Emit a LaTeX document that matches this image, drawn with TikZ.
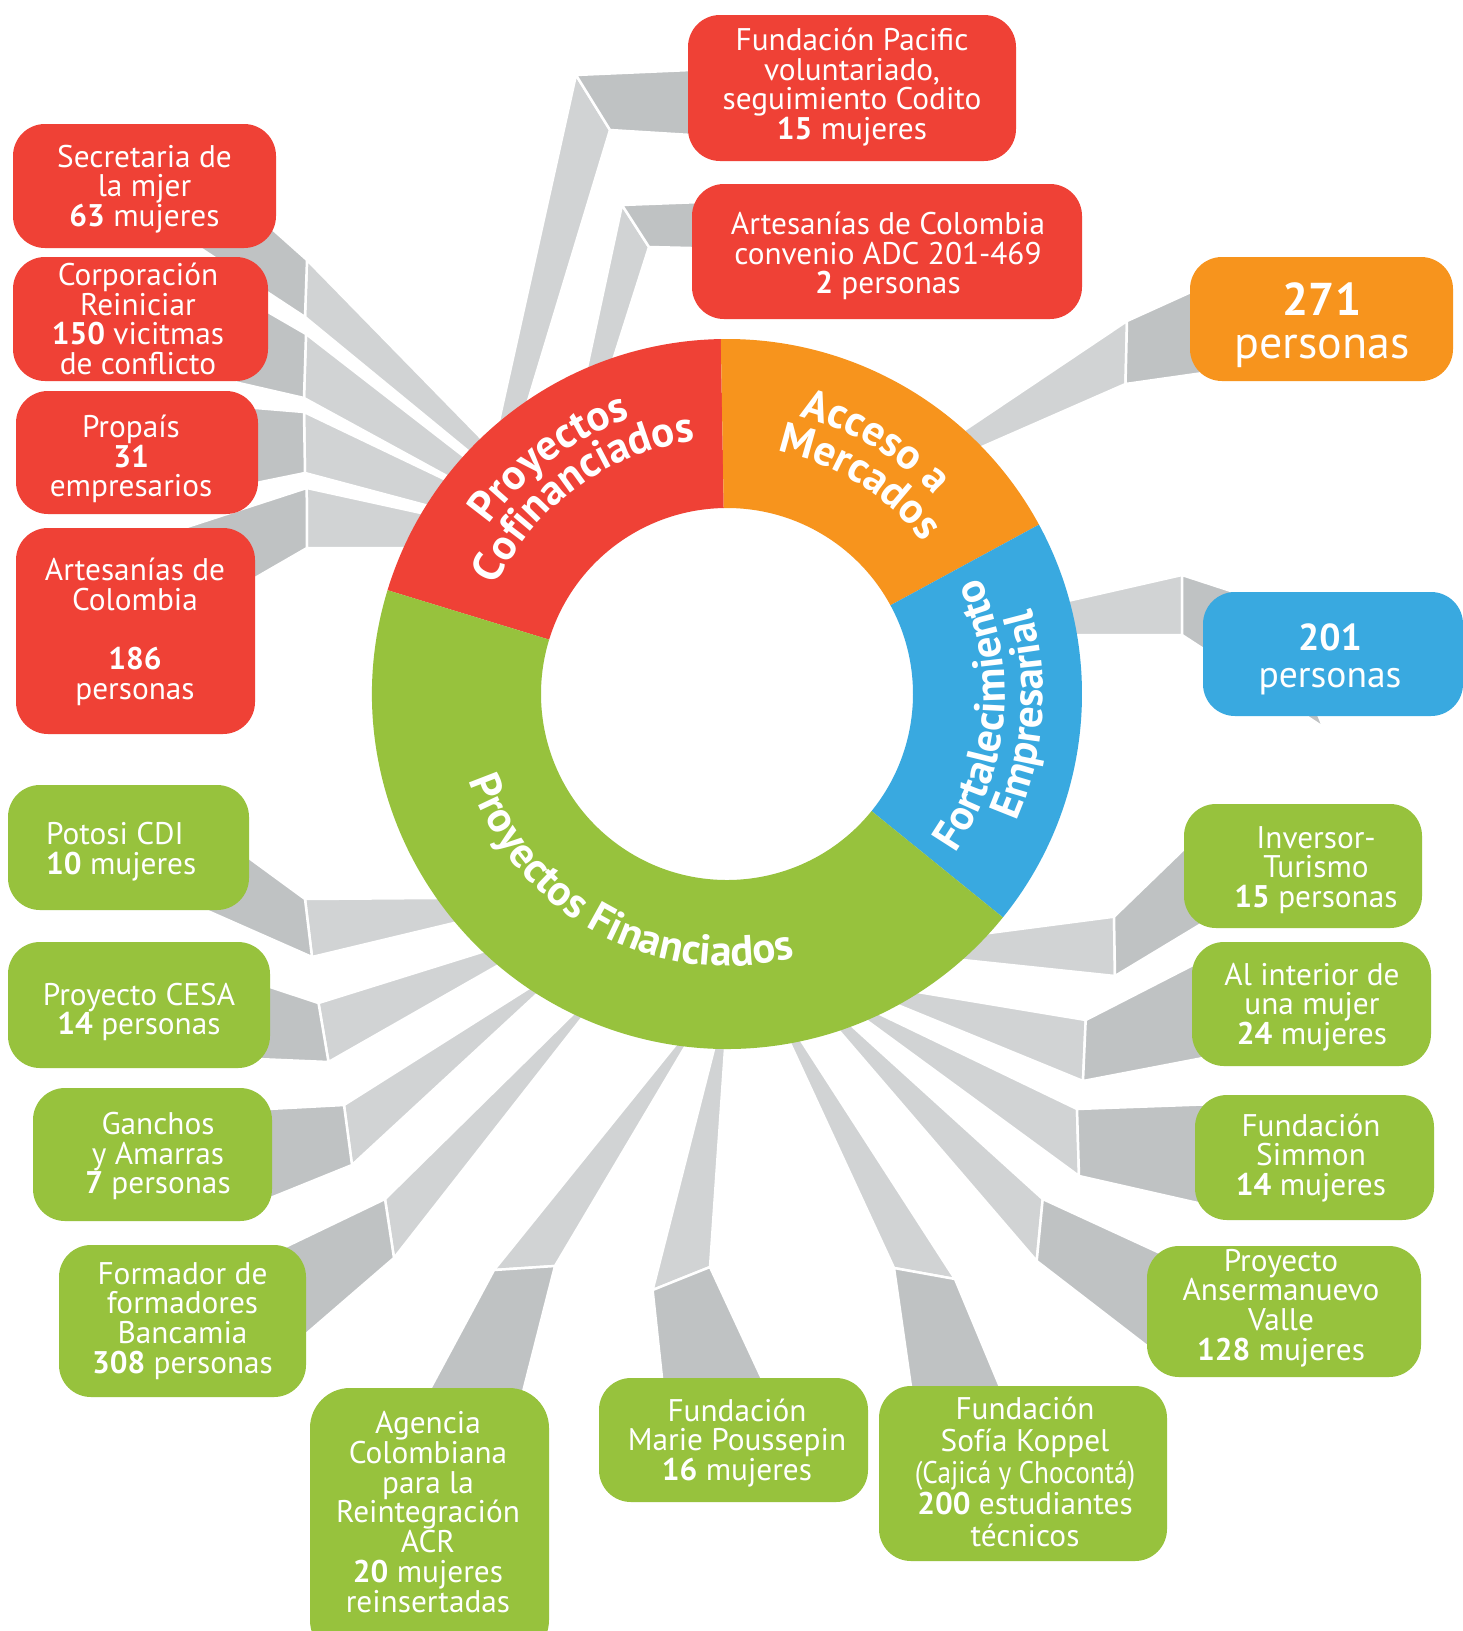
\documentclass[tikz,border=0pt]{standalone}
\usepackage{fontspec}
\setmainfont{PT Sans}
\usetikzlibrary{calc,decorations.text}
\definecolor{cred}{HTML}{EF4136}
\definecolor{corange}{HTML}{F7941D}
\definecolor{cblue}{HTML}{39A9E0}
\definecolor{cgreen}{HTML}{97C23D}
\definecolor{glight}{HTML}{D1D3D4}
\definecolor{gdark}{HTML}{BFC2C3}
\newcommand\dfont{\fontsize{43}{43}\selectfont\bfseries}
\tikzset{
  box/.style={rounded corners=32pt, inner sep=0pt, outer sep=0pt},
  txt/.style={text=white, align=center, font=\fontsize{31.3}{29.7}\selectfont, inner sep=0pt},
  rlight/.style={fill=glight, draw=white, line width=2.5pt, line join=round},
  rdark/.style={fill=gdark, draw=white, line width=2.5pt, line join=round},
  dtext/.style={decorate, decoration={text along path, text align=center, text color=white, text={|\dfont|#1}}}
}
% #1 name, #2 donut end of edge 1, #3 donut end of edge 2, #4 crease 1, #5 crease 2, #6 box end of edge 1, #7 box end of edge 2
\newcommand\rib[7]{%
  \coordinate (#1k1) at (#4);
  \coordinate (#1k2) at (#5);
  \coordinate (#1d1) at ($(#2)!-50pt!(#1k1)$);
  \coordinate (#1d2) at ($(#3)!-50pt!(#1k2)$);
  \coordinate (#1b1) at ($(#6)!-40pt!(#1k1)$);
  \coordinate (#1b2) at ($(#7)!-40pt!(#1k2)$);
  \path[rlight] (#1d1) -- (#1k1) -- (#1k2) -- (#1d2) -- cycle;
  \path[rdark] (#1k1) -- (#1b1) -- (#1b2) -- (#1k2) -- cycle;
}
\begin{document}
\begin{tikzpicture}[x=1pt,y=-1pt]
\fill[white] (0,0) rectangle (1463,1631);
\useasboundingbox (0,0) rectangle (1463,1631);

% ---------- ribbons ----------
\rib{r1}{480,437}{467,450}{307,260}{305,317}{270,227}{200,248}
\rib{r2}{462,455}{445,475}{306,334}{304,398}{268,312}{230,381}
\rib{r3}{442,478}{425,505}{304,412}{305,473}{256,408}{256,483}
\rib{r4}{421,513}{398,548}{306.7,488}{307,548}{193,525}{255,578}
\rib{r5}{497,430}{521,424}{576,75}{610,130}{691,70}{691,135}
\rib{r6}{588,363}{614,357}{622,205}{649,247}{702,202}{691,248}
\rib{r7}{964.6,430}{984,446}{1127,321}{1125.5,384}{1191,292}{1203,373}
\rib{r8}{1072,600}{1079.5,635}{1182,575}{1182,635}{1234,592}{1290,705.5}
\rib{r9}{435,898}{454,923}{305,899}{312,957}{249,858}{210,912}
\rib{r10}{482,952}{497,966}{318.5,1003}{328.5,1062}{270,987}{258,1059}
\rib{r11}{526,990}{536,995}{344,1105}{352,1165}{268,1109}{268,1199}
\rib{r12}{572,1015}{582,1018}{385,1199}{394,1258}{283,1248}{306,1334}
\rib{r13}{675.5,1045}{685,1047}{494,1270}{555,1266}{430.6,1388}{524,1388}
\rib{r14}{714,1049}{725,1049}{652.6,1290}{710,1267}{662,1378}{761.6,1378}
\rib{r15}{790,1043}{802,1042}{894,1268}{955,1279}{911,1387}{1000,1387}
\rib{r16}{852,1026}{840,1032}{1042.7,1199}{1036.7,1261}{1160,1253}{1147,1346}
\rib{r17}{881.7,1015}{870,1023}{1077,1109}{1079,1176}{1216.7,1104}{1206.7,1205}
\rib{r18}{921.7,992.7}{900,1006}{1085.7,1020}{1083,1081}{1193,965}{1203,1058}
\rib{r19}{991.7,932.7}{963,960}{1114,916.7}{1115,976}{1184,849}{1202,923.5}

% ---------- boxes ----------
\node[box, fill=cred, minimum width=263pt, minimum height=124pt] (s1) at (144.5,186) {};
\node[box, fill=cred, minimum width=255pt, minimum height=124pt] (s2) at (140.5,319) {};
\node[box, fill=cred, minimum width=242pt, minimum height=123pt] (s3) at (137,452.5) {};
\node[box, fill=cred, minimum width=239pt, minimum height=206pt] (s4) at (135.5,631) {};
\node[box, fill=cred, minimum width=328pt, minimum height=146pt] (s5) at (852,88) {};
\node[box, fill=cred, minimum width=390pt, minimum height=135pt] (s6) at (887,251.5) {};
\node[box, fill=corange, minimum width=263pt, minimum height=124pt] (o1) at (1321.5,319) {};
\node[box, fill=cblue, minimum width=260pt, minimum height=124pt] (b1) at (1333,654) {};
\node[box, fill=cgreen, minimum width=241pt, minimum height=125pt] (g1) at (128.5,847.5) {};
\node[box, fill=cgreen, minimum width=262pt, minimum height=126pt] (g2) at (139,1005) {};
\node[box, fill=cgreen, minimum width=239pt, minimum height=133pt] (g3) at (152.5,1154.5) {};
\node[box, fill=cgreen, minimum width=247pt, minimum height=152pt] (g4) at (182.5,1321) {};
\node[box, fill=cgreen, minimum width=239pt, minimum height=272pt, rounded corners=40pt] (g5) at (429.5,1524) {};
\node[box, fill=cgreen, minimum width=269pt, minimum height=124pt] (g6) at (733.5,1440) {};
\node[box, fill=cgreen, minimum width=288pt, minimum height=175pt] (g7) at (1023,1473.5) {};
\node[box, fill=cgreen, minimum width=274pt, minimum height=131pt] (g8) at (1284,1311.5) {};
\node[box, fill=cgreen, minimum width=239pt, minimum height=125pt] (g9) at (1314.5,1157.5) {};
\node[box, fill=cgreen, minimum width=239pt, minimum height=124pt] (g10) at (1311.5,1004) {};
\node[box, fill=cgreen, minimum width=238pt, minimum height=124pt] (g11) at (1303,866) {};

% ---------- box texts ----------
\node[txt] (s1t) at (144.5,189) {Secretaria de\\la mjer\\\textbf{63} mujeres};
\node[txt] (s2t) at (138,319) {Corporación\\Reiniciar\\\textbf{150} vicitmas\\de conflicto};
\node[txt] (s3t) at (131,459) {Propaís\\\textbf{31}\\empresarios};
\node[txt] (s4t) at (135,632) {Artesanías de\\Colombia\\[29.7pt]\textbf{186}\\personas};
\node[txt] (s5t) at (852,87) {Fundación Pacific\\voluntariado,\\seguimiento Codito\\\textbf{15} mujeres};
\node[txt] (s6t) at (888,256) {Artesanías de Colombia\\convenio ADC 201-469\\\textbf{2} personas};
\node[txt, font=\fontsize{46}{43.5}\selectfont] (o1t) at (1322,325) {\textbf{271}\\personas};
\node[txt, font=\fontsize{37.5}{37}\selectfont] (b1t) at (1330,659) {\textbf{201}\\personas};
\node[txt, align=left, anchor=west] (g1t) at (46,852) {Potosi CDI\\\textbf{10} mujeres};
\node[txt] (g2t) at (139,1012) {Proyecto CESA\\\textbf{14} personas};
\node[txt] (g3t) at (158,1156) {Ganchos\\y Amarras\\\textbf{7} personas};
\node[txt] (g4t) at (182.5,1321) {Formador de\\formadores\\Bancamia\\\textbf{308} personas};
\node[txt] (g5t) at (428,1512) {Agencia\\Colombiana\\para la\\Reintegración\\ACR\\\textbf{20} mujeres\\reinsertadas};
\node[txt] (g6t) at (737,1443) {Fundación\\Marie Poussepin\\\textbf{16} mujeres};
\node[txt, font=\fontsize{31.3}{31.7}\selectfont] (g7t) at (1025,1472) {Fundación\\Sofía Koppel\\\scalebox{0.87}[1]{(Cajicá y Chocontá)}\\\textbf{200} estudiantes\\técnicos};
\node[txt] (g8t) at (1281,1308) {Proyecto\\Ansermanuevo\\Valle\\\textbf{128} mujeres};
\node[txt] (g9t) at (1311,1158) {Fundación\\Simmon\\\textbf{14} mujeres};
\node[txt] (g10t) at (1312,1007) {Al interior de\\una mujer\\\textbf{24} mujeres};
\node[txt] (g11t) at (1316,870) {Inversor-\\Turismo\\\textbf{15} personas};

% ---------- donut ----------
\begin{scope}[shift={(727,694)}, y=1pt]
  \fill[cred] (91:355) arc[start angle=91, end angle=163, radius=355] -- (163:186) arc[start angle=163, end angle=91, radius=186] -- cycle;
  \fill[corange] (28.5:355) arc[start angle=28.5, end angle=91, radius=355] -- (91:186) arc[start angle=91, end angle=28.5, radius=186] -- cycle;
  \fill[cblue] (-39:355) arc[start angle=-39, end angle=28.5, radius=355] -- (28.5:186) arc[start angle=28.5, end angle=-39, radius=186] -- cycle;
  \fill[cgreen] (163:355) arc[start angle=163, end angle=321, radius=355] -- (321:186) arc[start angle=321, end angle=163, radius=186] -- cycle;
  \path[dtext={Proyectos Financiados}] (171.5:272) arc[start angle=171.5, end angle=311.5, radius=272];
  \path[dtext={Proyectos}] (197:292) arc[start angle=197, end angle=57, radius=292];
  \path[dtext={Cofinanciados}] (196:255) arc[start angle=196, end angle=56, radius=255];
  \path[dtext={Acceso a}] (129.5:287) arc[start angle=129.5, end angle=-10.5, radius=287];
  \path[dtext={Mercados}] (128:248) arc[start angle=128, end angle=-12, radius=248];
  \path[dtext={Fortalecimiento}] (-75:278) arc[start angle=-75, end angle=65, radius=278];
  \path[dtext={Empresarial}] (-74:316) arc[start angle=-74, end angle=66, radius=316];
\end{scope}
\end{tikzpicture}
\end{document}
